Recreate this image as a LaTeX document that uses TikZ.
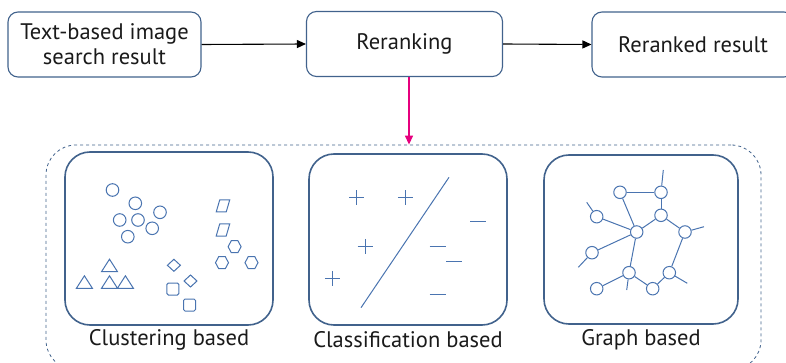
\documentclass[tikz,border=0pt]{standalone}
\usepackage{fontspec}
\setmainfont{PT Sans}
\usetikzlibrary{arrows.meta,positioning}
\definecolor{boxBlue}{HTML}{41628C}
\definecolor{shapeBlue}{HTML}{4A74B0}
\definecolor{arrowPink}{HTML}{E6007E}
\definecolor{textBlack}{HTML}{1A1A1A}
\newcommand\boxLineWidth{1.1pt}
\newcommand\panelLineWidth{1.6pt}
\newcommand\shapeLineWidth{1pt}
\newcommand\labelFont{\fontsize{22.5}{25}\selectfont}
\tikzset{
    stepbox/.style={draw=boxBlue, line width=\boxLineWidth, rounded corners=10pt, minimum height=65pt, align=center, inner sep=0pt, text=textBlack, font=\labelFont},
    panelbox/.style={draw=boxBlue, line width=\panelLineWidth, rounded corners=25pt, inner sep=0pt},
    framebox/.style={draw=boxBlue, dashed, line width=0.8pt, rounded corners=30pt, inner sep=0pt},
    panellabel/.style={text=textBlack, font=\labelFont, inner sep=0pt},
    flowarrow/.style={-{Triangle[length=9pt, width=8pt]}, line width=1.1pt, draw=black},
    shapeline/.style={draw=shapeBlue, line width=\shapeLineWidth},
    graphnode/.style={circle, draw=shapeBlue, line width=\shapeLineWidth, fill=white, minimum size=12.5pt, inner sep=0pt}
}

\begin{document}
\begin{tikzpicture}[x=1pt, y=-1pt]

    \useasboundingbox (0,0) rectangle (786,363);
    \clip (0,0) rectangle (786,363);

%    top row
    \node [stepbox, minimum width=193pt] (search) at (104.5,44.5) {Text-based image\\search result};
    \node [stepbox, minimum width=196pt] (rerank) at (404.5,44) {Reranking};
    \node [stepbox, minimum width=202pt] (result) at (693,44.5) {Reranked result};

    \draw [flowarrow] (search.east) -- (rerank.west);
    \draw [flowarrow] (rerank.east) -- (result.west);

%    dashed frame and panels
    \node [framebox, minimum width=715pt, minimum height=225pt] (frame) at (403.5,257.5) {};

    \draw [-{Triangle[length=9pt, width=8pt]}, line width=1.3pt, draw=arrowPink] ([xshift=4.5pt]rerank.south) -- ([xshift=4.5pt]rerank.south |- frame.north);

    \node [panelbox, minimum width=208pt, minimum height=173pt] (clusterPanel) at (169,238.5) {};
    \node [panelbox, minimum width=198pt, minimum height=171pt] (classPanel) at (408,239.5) {};
    \node [panelbox, minimum width=194pt, minimum height=169pt] (graphPanel) at (641,239.5) {};

    \node [panellabel] (clusterLabel) at (169,340) {Clustering based};
    \node [panellabel] (classLabel) at (408,340) {Classification based};
    \node [panellabel] (graphLabel) at (641,340) {Graph based};

%Part One: clusters
    \foreach \x/\y in {112.5/190, 135.3/203.3, 160/212.3, 119.7/220, 138/220, 152.2/228.3, 127.8/236.7}{
        \draw [shapeline] (\x,\y) circle (6.3pt);
    }
    \foreach \x/\y in {222.7/206, 222.7/230}{
        \draw [shapeline] (\x,\y) +(-6.5,6) -- +(3.5,6) -- +(7,-6) -- +(-3,-6) -- cycle;
    }
    \foreach \x/\y in {234.6/246.7, 222/262.7, 251.5/262.7}{
        \draw [shapeline] (\x,\y) +(6.5,0) -- +(3.3,-6) -- +(-3.3,-6) -- +(-6.5,0) -- +(-3.3,6) -- +(3.3,6) -- cycle;
    }
    \foreach \x/\y in {109.5/265.7, 84.4/282.3, 109.5/282.3, 125.4/282.3}{
        \draw [shapeline] (\x,\y) +(-8,6) -- +(8,6) -- +(0,-6.5) -- cycle;
    }
    \foreach \x/\y in {173.9/265.3, 190.5/281}{
        \draw [shapeline] (\x,\y) +(-6.5,0) -- +(0,-6) -- +(6.5,0) -- +(0,6) -- cycle;
    }
    \foreach \x/\y in {172.9/289, 189.5/305}{
        \draw [shapeline, rounded corners=1.5pt] (\x,\y) +(-6,-6) rectangle +(6,6);
    }

%Part Two: classification
    \foreach \x/\y in {356.7/197.7, 405.3/197.7, 365/246.3, 332.3/278.3}{
        \draw [shapeline] (\x,\y) +(-7.5,0) -- +(7.5,0) +(0,-7.5) -- +(0,7.5);
    }
    \foreach \x/\y in {478.3/221.3, 437.7/246, 454.3/261.7, 437.7/294}{
        \draw [shapeline] (\x,\y) +(-8,0) -- +(8,0);
    }
    \draw [shapeline] (449,177.3) -- (361,307.7);

%Part Three: graph
    \foreach \n/\x/\y in {1/620/192.3, 2/661/192.3, 3/661/215.3, 4/596.7/216.7, 5/636.7/232, 6/685/232, 7/592/252.7, 8/629/272.7, 9/669.3/272.7, 10/596.7/288.7, 11/652.7/288.7}{
        \node [graphnode] (g\n) at (\x,\y) {};
    }
    \coordinate (stub2) at (663.3,170);
    \coordinate (stub4) at (586.7,202.3);
    \coordinate (stub7) at (578.3,267.3);
    \coordinate (stub6) at (704,226.7);
    \coordinate (stub9) at (687.3,283.3);
    \coordinate (stub8) at (626.7,290);

    \foreach \a/\b in {1/2, 2/3, 1/5, 3/5, 3/6, 4/5, 7/5, 5/8, 6/9, 8/10, 8/11, 9/11}{
        \draw [shapeline] (g\a) -- (g\b);
    }
    \foreach \a in {2,4,7,6,9,8}{
        \draw [shapeline] (g\a) -- (stub\a);
    }

\end{tikzpicture}
\end{document}
